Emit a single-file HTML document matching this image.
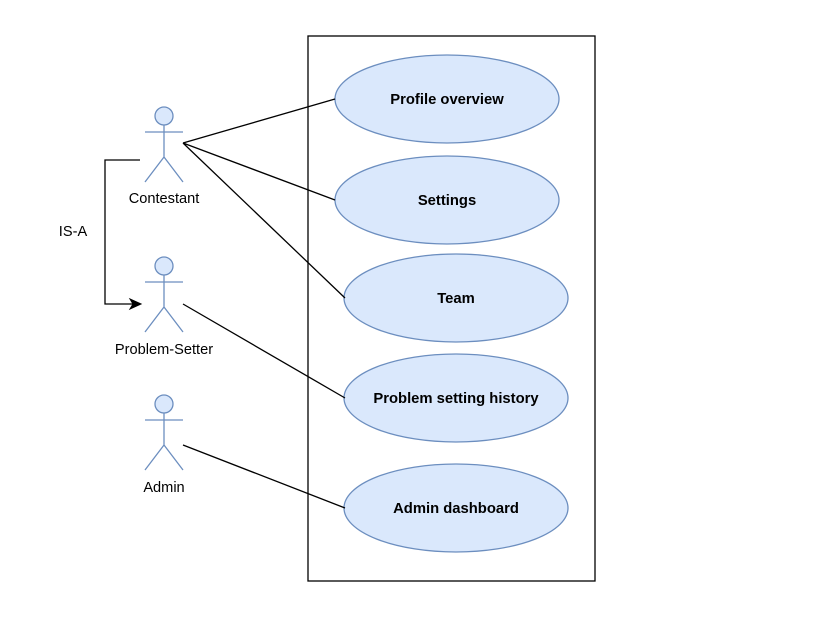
<!DOCTYPE html>
<html><head><style>body{margin:0;background:#fff}</style></head><body>
<svg width="826" height="616" xmlns="http://www.w3.org/2000/svg" font-family="Liberation Sans, Arial, sans-serif">
<rect x="308" y="36" width="287" height="545" fill="#fff" stroke="#000" stroke-width="1.3"/>
<g fill="#dae8fc" stroke="#6c8ebf" stroke-width="1.3">
<ellipse cx="447" cy="99" rx="112" ry="44"/>
<ellipse cx="447" cy="200" rx="112" ry="44"/>
<ellipse cx="456" cy="298" rx="112" ry="44"/>
<ellipse cx="456" cy="398" rx="112" ry="44"/>
<ellipse cx="456" cy="508" rx="112" ry="44"/>
</g>
<g font-size="14.8" font-weight="bold" text-anchor="middle" fill="#000">
<text x="447" y="104">Profile overview</text>
<text x="447" y="205">Settings</text>
<text x="456" y="303">Team</text>
<text x="456" y="403">Problem setting history</text>
<text x="456" y="513">Admin dashboard</text>
</g>
<g stroke="#000" stroke-width="1.3" fill="none">
<path d="M183 143 L335 99 M183 143 L335 200 M183 143 L345 298 M183 304 L345 398 M183 445 L345 508"/>
<path d="M140 160 H105 V304 H133"/>
</g>
<path d="M141 304 L130 299 L133 304 L130 309 Z" fill="#000" stroke="#000"/>
<g fill="#dae8fc" stroke="#6c8ebf" stroke-width="1.3">
<circle cx="164" cy="116" r="9"/>
<path d="M164 125 V157 M145 132 H183 M164 157 L145 182 M164 157 L183 182" fill="none"/>
<circle cx="164" cy="266" r="9"/>
<path d="M164 275 V307 M145 282 H183 M164 307 L145 332 M164 307 L183 332" fill="none"/>
<circle cx="164" cy="404" r="9"/>
<path d="M164 413 V445 M145 420 H183 M164 445 L145 470 M164 445 L183 470" fill="none"/>
</g>
<g font-size="14.6" text-anchor="middle" fill="#000">
<text x="164" y="203">Contestant</text>
<text x="164" y="354">Problem-Setter</text>
<text x="164" y="492">Admin</text>
<text x="73" y="236">IS-A</text>
</g>
</svg>
</body></html>
